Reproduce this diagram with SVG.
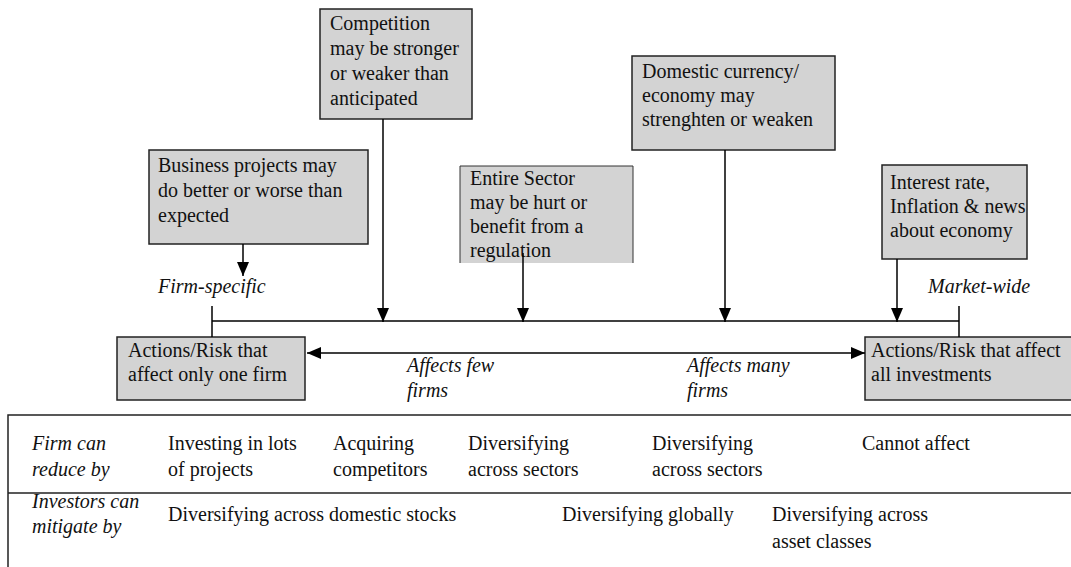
<svg xmlns="http://www.w3.org/2000/svg" width="1071" height="567" viewBox="0 0 1071 567">
<defs>
<marker id="arr" viewBox="0 0 14 12" refX="14" refY="6" markerWidth="14" markerHeight="12" markerUnits="userSpaceOnUse" orient="auto-start-reverse">
<path d="M0,0 L14,6 L0,12 z" fill="#000"/>
</marker>
</defs>
<style>
text{font-family:"Liberation Serif","Times New Roman",serif;font-size:20px;fill:#111}
.it{font-style:italic}
.box{fill:#d3d3d3;stroke:#222;stroke-width:1.5}
.ln{stroke:#000;stroke-width:1.5;fill:none}
.tb{stroke:#222;stroke-width:1.5;fill:none}
</style>
<rect width="1071" height="567" fill="#fff"/>

<g id="competition">
<rect class="box" x="320" y="9" width="152" height="110"/>
<text x="330" y="30">Competition</text>
<text x="330" y="55">may be stronger</text>
<text x="330" y="80">or weaker than</text>
<text x="330" y="105">anticipated</text>
</g>
<g id="business">
<rect class="box" x="149" y="150" width="219" height="94"/>
<text x="158" y="172">Business projects may</text>
<text x="158" y="197">do better or worse than</text>
<text x="158" y="222">expected</text>
</g>
<g id="sector">
<rect x="460" y="166" width="173" height="97" fill="#d3d3d3"/>
<path d="M460,263 V166 H633 V263" fill="none" stroke="#333" stroke-width="1"/>
<text x="470" y="185">Entire Sector</text>
<text x="470" y="209">may be hurt or</text>
<text x="470" y="233">benefit from a</text>
<text x="470" y="257">regulation</text>
</g>
<g id="domestic">
<rect class="box" x="632" y="56" width="203" height="94"/>
<text x="642" y="78">Domestic currency/</text>
<text x="642" y="102">economy may</text>
<text x="642" y="126">strenghten or weaken</text>
</g>
<g id="interest">
<rect class="box" x="882" y="165" width="145" height="94"/>
<text x="890" y="189">Interest rate,</text>
<text x="890" y="213">Inflation &amp; news</text>
<text x="890" y="237">about economy</text>
</g>
<g id="firm-specific">
<rect class="box" x="117" y="337" width="188" height="63"/>
<text x="128" y="357">Actions/Risk that</text>
<text x="128" y="381">affect only one firm</text>
</g>
<g id="market-wide">
<rect class="box" x="865" y="337" width="215" height="63"/>
<text x="871" y="357">Actions/Risk that affect</text>
<text x="871" y="381">all investments</text>
</g>

<g id="connectors">
<line class="ln" x1="243" y1="244" x2="243" y2="276" marker-end="url(#arr)"/>
<line class="ln" x1="383" y1="119" x2="383" y2="322" marker-end="url(#arr)"/>
<line class="ln" x1="523" y1="253" x2="523" y2="322" marker-end="url(#arr)"/>
<line class="ln" x1="725" y1="150" x2="725" y2="322" marker-end="url(#arr)"/>
<line class="ln" x1="897" y1="259" x2="897" y2="322" marker-end="url(#arr)"/>
<line class="ln" x1="212" y1="321" x2="959" y2="321"/>
<line class="ln" x1="212" y1="306" x2="212" y2="337"/>
<line class="ln" x1="959" y1="306" x2="959" y2="337"/>
<line class="ln" x1="307" y1="353" x2="865" y2="353" marker-start="url(#arr)" marker-end="url(#arr)"/>
</g>

<g id="labels">
<text class="it" x="158" y="293">Firm-specific</text>
<text class="it" x="928" y="293">Market-wide</text>
<text class="it" x="407" y="372">Affects few</text>
<text class="it" x="407" y="397">firms</text>
<text class="it" x="687" y="372">Affects many</text>
<text class="it" x="687" y="397">firms</text>
</g>

<g id="table">
<path class="tb" d="M1080,415 H8 V575"/>
<line class="tb" x1="8" y1="493" x2="1080" y2="493"/>
<text class="it" x="32" y="450">Firm can</text>
<text class="it" x="32" y="476">reduce by</text>
<text x="168" y="450">Investing in lots</text>
<text x="168" y="476">of projects</text>
<text x="333" y="450">Acquiring</text>
<text x="333" y="476">competitors</text>
<text x="468" y="450">Diversifying</text>
<text x="468" y="476">across sectors</text>
<text x="652" y="450">Diversifying</text>
<text x="652" y="476">across sectors</text>
<text x="862" y="450">Cannot affect</text>
<text class="it" x="32" y="508">Investors can</text>
<text class="it" x="32" y="533">mitigate by</text>
<text x="168" y="521">Diversifying across domestic stocks</text>
<text x="562" y="521">Diversifying globally</text>
<text x="772" y="521">Diversifying across</text>
<text x="772" y="548">asset classes</text>
</g>
</svg>
